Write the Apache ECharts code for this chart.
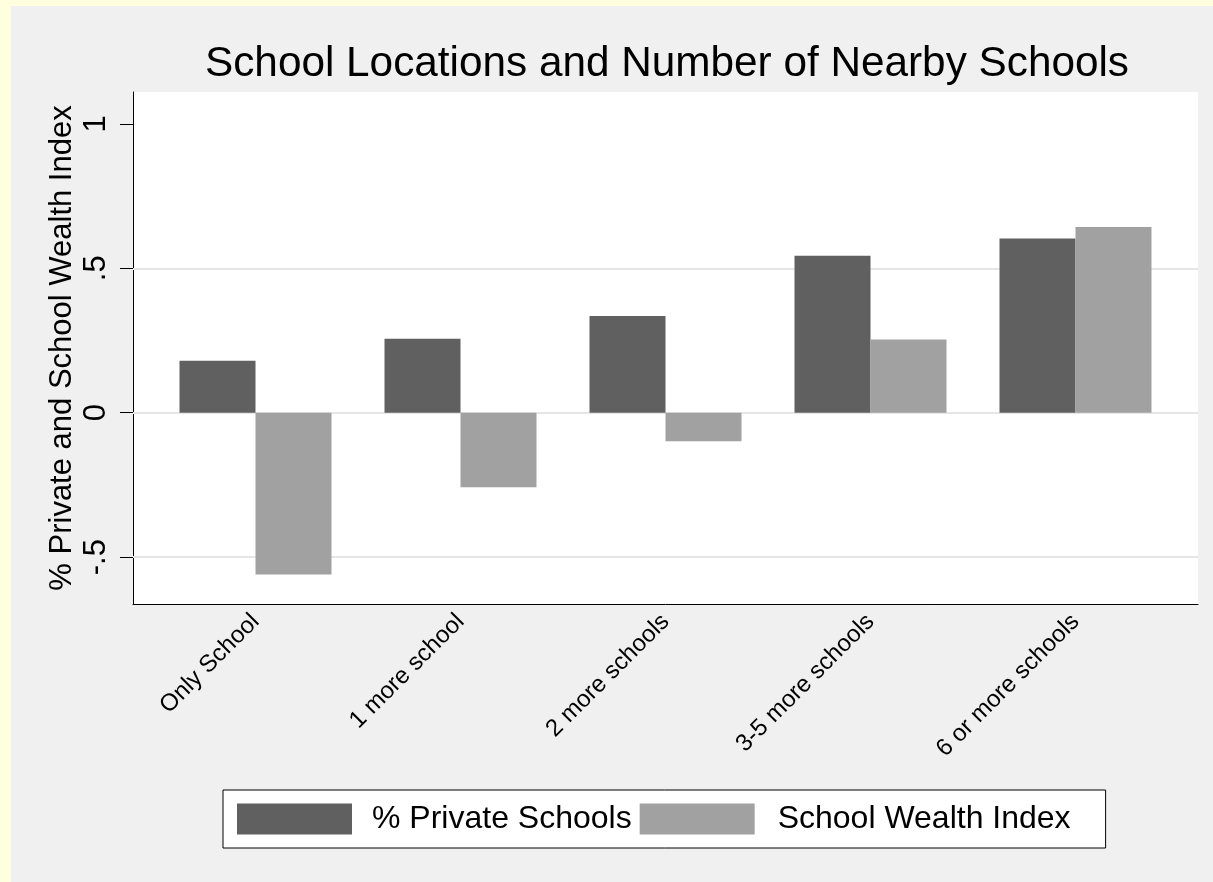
<!DOCTYPE html>
<html>
<head>
<meta charset="utf-8">
<script src="https://cdn.jsdelivr.net/npm/echarts@6/dist/echarts.min.js"></script>
<style>
  html, body { margin: 0; padding: 0; background: #ffffe0; }
  #chart { position: absolute; left: 11px; top: 6px; width: 1202px; height: 876px; }
</style>
</head>
<body>
<div id="chart"></div>
<script>
const categories = ['Only School', '1 more school', '2 more schools', '3-5 more schools', '6 or more schools'];
const privateSchools = [0.180, 0.256, 0.335, 0.543, 0.603];
const wealthIndex = [-0.560, -0.258, -0.099, 0.253, 0.643];
const yTickValues = [-0.5, 0, 0.5, 1];
const gridLineValues = [0.5, 0, -0.5];
const seriesNames = ['% Private Schools', 'School Wealth Index'];

const FONT = '"Liberation Sans", Arial, sans-serif';
const yMin = -0.662, yMax = 1.11;
const fmt = v => v === 0 ? '0' : String(v).replace('0.', '.');

const chart = echarts.init(document.getElementById('chart'), null, { renderer: 'canvas' });
chart.setOption({
  backgroundColor: '#f0f0f0',
  animation: false,
  title: {
    text: 'School Locations and Number of Nearby Schools',
    left: 194, top: 37, padding: 0,
    textStyle: { fontFamily: FONT, fontSize: 42.3, fontWeight: 'normal', color: '#000' }
  },
  legend: {
    data: [
      { name: seriesNames[0] },
      { name: seriesNames[1], textStyle: { padding: [0, 0, 0, 18] } }
    ],
    left: 212, top: 784,
    padding: [13, 35, 13, 14],
    backgroundColor: '#fff', borderColor: '#000', borderWidth: 1, borderRadius: 0,
    itemWidth: 115, itemHeight: 31, itemGap: 8,
    icon: 'rect',
    textStyle: { fontFamily: FONT, fontSize: 32, color: '#000', padding: [0, 0, 0, 15] }
  },
  grid: [
    { left: 122, right: 15, top: 86, bottom: 278, show: true, backgroundColor: '#fff', borderWidth: 0 },
    { left: 142, right: 35, top: 86, bottom: 278 }
  ],
  xAxis: [
    { type: 'value', gridIndex: 0, min: 0, max: 1,
      axisLine: { show: true, onZero: false, lineStyle: { color: '#000', width: 1 } },
      axisTick: { show: false }, axisLabel: { show: false }, splitLine: { show: false } },
    { type: 'category', gridIndex: 1, data: categories,
      axisLine: { show: false, onZero: false }, axisTick: { show: false },
      axisLabel: { rotate: 45, margin: 14, fontFamily: FONT, fontSize: 24, color: '#000', interval: 0 } }
  ],
  yAxis: [
    { type: 'value', gridIndex: 0, min: yMin, max: yMax,
      name: '% Private and School Wealth Index', nameLocation: 'middle', nameGap: 55,
      nameMoveOverlap: false,
      nameTextStyle: { fontFamily: FONT, fontSize: 31, color: '#000' },
      axisLine: { show: true, lineStyle: { color: '#000', width: 1 } },
      axisTick: { show: true, length: 13, customValues: yTickValues, lineStyle: { color: '#000' } },
      axisLabel: { rotate: 90, margin: 21, customValues: yTickValues, formatter: fmt,
                   fontFamily: FONT, fontSize: 31, color: '#000' },
      splitLine: { show: false } },
    { type: 'value', gridIndex: 1, min: yMin, max: yMax, show: false, splitLine: { show: false } }
  ],
  series: [
    { type: 'line', xAxisIndex: 0, yAxisIndex: 0, data: [], silent: true, z: 1,
      markLine: { silent: true, z: 1, symbol: ['none', 'none'], label: { show: false },
        lineStyle: { color: '#e6e6e6', width: 2, type: 'solid' },
        data: gridLineValues.map(v => ({ yAxis: v })) } },
    { name: seriesNames[0], type: 'bar', xAxisIndex: 1, yAxisIndex: 1, data: privateSchools,
      barWidth: 76, barGap: '0%', z: 3, itemStyle: { color: '#606060' } },
    { name: seriesNames[1], type: 'bar', xAxisIndex: 1, yAxisIndex: 1, data: wealthIndex,
      barWidth: 76, barGap: '0%', z: 3, itemStyle: { color: '#a1a1a1' } }
  ]
});
</script>
</body>
</html>
